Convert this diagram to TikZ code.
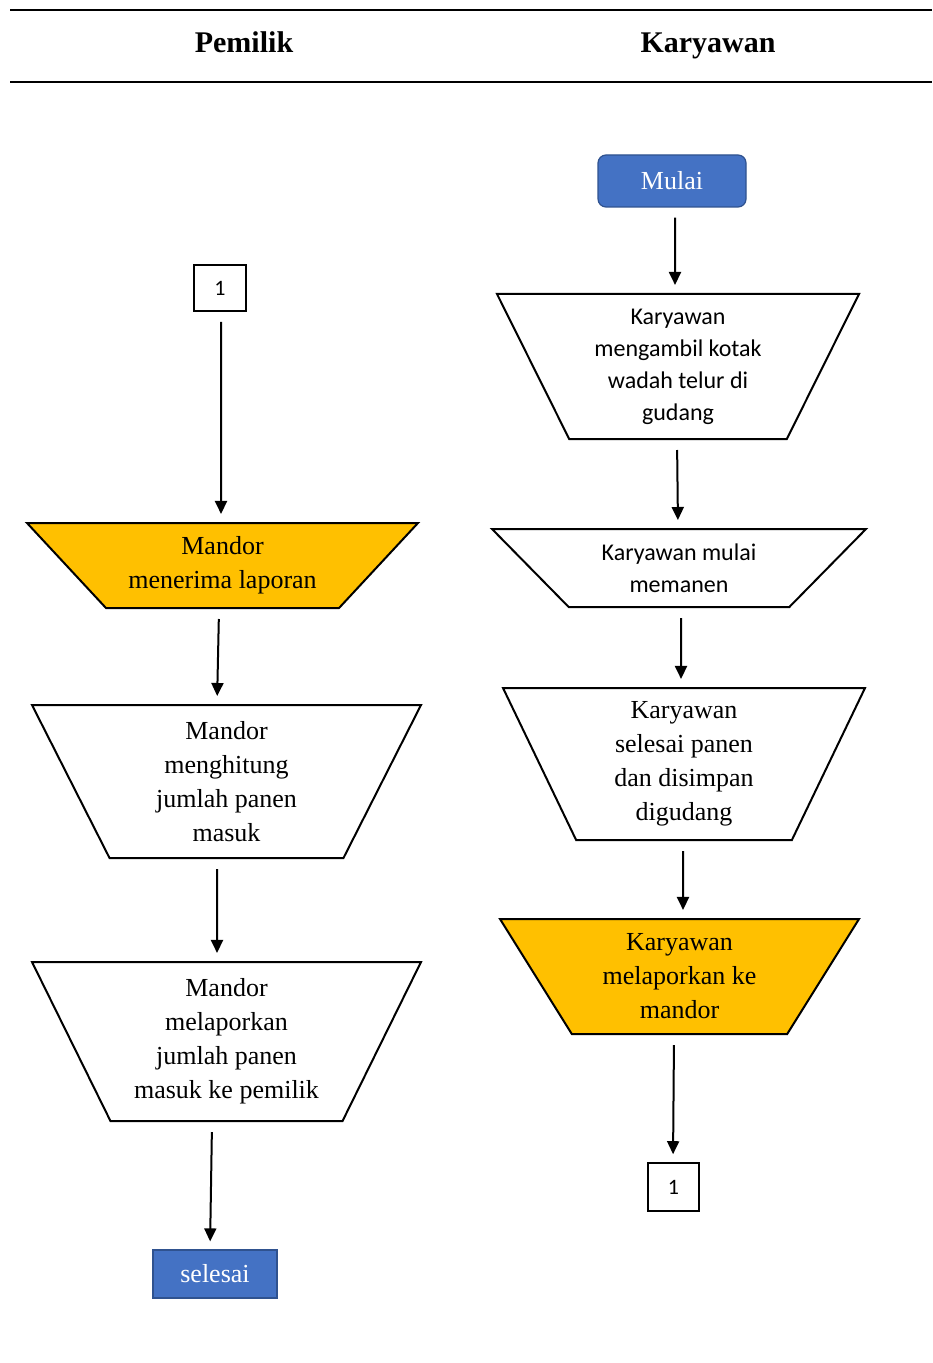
\documentclass[tikz,border=0pt]{standalone}
\usepackage{fontspec}
\setmainfont{Liberation Serif}
\newfontfamily\calfont{Carlito}
\usetikzlibrary{shapes.geometric,arrows.meta}

\definecolor{biru}{HTML}{4472C4}
\definecolor{birutua}{HTML}{2F528F}
\definecolor{oranye}{HTML}{FFC000}

\tikzset{
  manual/.style={trapezium, shape border rotate=180, trapezium stretches body=true,
    draw, line width=1pt, align=center, inner sep=0pt,
    font=\fontsize{13}{17}\selectfont},
  manualcal/.style={manual, font=\calfont\fontsize{12}{16}\selectfont},
  konektor/.style={draw, line width=0.8pt, inner sep=0pt,
    font=\calfont\fontsize{11}{13}\selectfont},
  terminal/.style={fill=biru, draw=birutua, line width=0.6pt, text=white,
    font=\fontsize{13}{15}\selectfont},
  judul/.style={anchor=base, font=\bfseries\fontsize{15}{18}\selectfont},
  arr/.style={-{Triangle[length=6.5pt,width=6pt]}, line width=1pt,
    shorten <=5pt, shorten >=4pt},
}

\begin{document}
\begin{tikzpicture}[x=0.5pt, y=-0.5pt]
  \useasboundingbox (0,0) rectangle (932,1363);

  % kepala tabel
  \draw[line width=1pt] (10,10) -- (932,10);
  \draw[line width=1pt] (10,82) -- (932,82);
  \node[judul] (hpemilik) at (244,53) {Pemilik};
  \node[judul] (hkaryawan) at (708,53) {Karyawan};

  % kolom pemilik
  \node[konektor, minimum width=26pt, minimum height=23pt] (k1a) at (220,288) {1};
  \node[manual, fill=oranye, minimum width=195.5pt, minimum height=42.5pt,
    trapezium left angle=36.1, trapezium right angle=36.1] (terima) at (222.5,565.5)
    {Mandor\\menerima laporan};
  \node[manual, minimum width=194.5pt, minimum height=76.5pt,
    trapezium left angle=57.2, trapezium right angle=57.2] (hitung) at (226.5,781.5)
    {Mandor\\menghitung\\jumlah panen\\masuk};
  \node[manual, minimum width=194.5pt, minimum height=79.5pt,
    trapezium left angle=58, trapezium right angle=58] (lapor) at (226.5,1041.5)
    {Mandor\\melaporkan\\jumlah panen\\masuk ke pemilik};
  \node[terminal, minimum width=62pt, minimum height=24pt] (selesai) at (215,1274) {selesai};

  % kolom karyawan
  \node[terminal, rounded corners=4pt, minimum width=74pt, minimum height=26pt] (mulai) at (672,181) {Mulai};
  \node[manualcal, minimum width=181pt, minimum height=72.5pt,
    trapezium left angle=58, trapezium right angle=58] (ambil) at (678,366.5)
    {Karyawan\\mengambil kotak\\wadah telur di\\gudang};
  \node[manualcal, minimum width=187pt, minimum height=39pt,
    trapezium left angle=32.5, trapezium right angle=32.5] (panen) at (679,568)
    {Karyawan mulai\\memanen};
  \node[manual, minimum width=181pt, minimum height=76pt,
    trapezium left angle=59.6, trapezium right angle=59.6] (simpan) at (684,764)
    {Karyawan\\selesai panen\\dan disimpan\\digudang};
  \node[manual, fill=oranye, minimum width=179.5pt, minimum height=57.5pt,
    trapezium left angle=49.9, trapezium right angle=49.9] (laporkan) at (679.5,976.5)
    {Karyawan\\melaporkan ke\\mandor};
  \node[konektor, minimum width=25.5pt, minimum height=24pt] (k1b) at (673.5,1187) {1};

  \draw[arr] ([xshift=0.5pt]k1a.south) -- ([xshift=-0.75pt]terima.north);
  \draw[arr] ([xshift=-1.75pt]terima.south) -- ([xshift=-4.75pt]hitung.north);
  \draw[arr] ([xshift=-4.75pt]hitung.south) -- ([xshift=-4.75pt]lapor.north);
  \draw[arr] ([xshift=-7.25pt]lapor.south) -- ([xshift=-2.5pt]selesai.north);

  \draw[arr] ([xshift=1.5pt]mulai.south) -- ([xshift=-1.5pt]ambil.north);
  \draw[arr] ([xshift=-0.5pt]ambil.south) -- ([xshift=-0.5pt]panen.north);
  \draw[arr] ([xshift=1pt]panen.south) -- ([xshift=-1.5pt]simpan.north);
  \draw[arr] ([xshift=-0.5pt]simpan.south) -- ([xshift=1.75pt]laporkan.north);
  \draw[arr] ([xshift=-2.75pt]laporkan.south) -- ([xshift=-0.25pt]k1b.north);
\end{tikzpicture}
\end{document}
